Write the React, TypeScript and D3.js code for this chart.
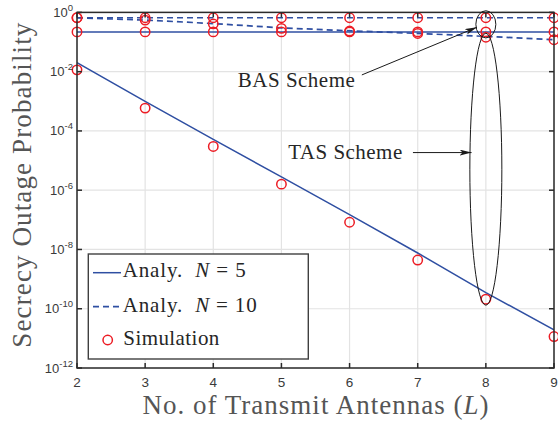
import React from "react";
import * as d3 from "d3";

// Number of transmit antennas
const antennas = [2, 3, 4, 5, 6, 7, 8, 9];

// Analytical curves
const tasN5 = [2.0e-2, 1.0e-3, 5.2e-5, 2.8e-6, 1.5e-7, 7.6e-9, 3.5e-10, 1.95e-11];
const basN5 = [0.22, 0.22, 0.22, 0.22, 0.22, 0.22, 0.22, 0.22];
const tasN10 = [0.66, 0.55, 0.42, 0.3, 0.24, 0.195, 0.155, 0.12];
const basN10 = [0.66, 0.66, 0.66, 0.66, 0.66, 0.66, 0.66, 0.66];

// Simulation points
const simTasN5 = [1.15e-2, 5.9e-4, 3.0e-5, 1.6e-6, 8.3e-8, 4.4e-9, 2.1e-10, 1.15e-11];
const simBasN5 = [0.22, 0.22, 0.22, 0.22, 0.22, 0.22, 0.22, 0.22];
const simTasN10 = [0.66, 0.55, 0.41, 0.29, 0.235, 0.195, 0.145, 0.12];
const simBasN10 = [0.66, 0.66, 0.66, 0.66, 0.66, 0.66, 0.66, 0.66];

const xTicks = [2, 3, 4, 5, 6, 7, 8, 9];
const yTickExps = [0, -2, -4, -6, -8, -10, -12];

const width = 558;
const height = 421;
const marginLeft = 77;
const marginRight = 4;
const marginTop = 12.4;
const marginBottom = 53;

const blue = "#2f4fa2";
const red = "#ec1c24";
const axisColor = "#2b2b2b";
const gridColor = "#e3e3e3";
const serif = "Liberation Serif, Times New Roman, serif";
const sans = "Liberation Sans, Arial, sans-serif";

export default function App() {
  const x = d3.scaleLinear().domain([2, 9]).range([marginLeft, width - marginRight]);
  const y = d3.scaleLog().domain([1e-12, 1]).range([height - marginBottom, marginTop]);

  const line = d3
    .line<number>()
    .x((_, i) => x(antennas[i]))
    .y((d) => y(d));

  const x0 = x(2);
  const x1 = x(9);
  const y0 = y(1e-12);
  const y1 = y(1);

  const sims = [simTasN5, simBasN5, simTasN10, simBasN10];

  // annotation geometry (data space)
  const eCx = x(8);
  const smallTop = y(simBasN10[6]) - 7;
  const smallBot = y(simBasN5[6]) + 6;
  const tallTop = y(simTasN10[6]) - 4;
  const tallBot = y(simTasN5[6]) + 6;

  const basArrow = { x1: x(6.18), y1: y(10 ** -2.11), x2: x(7.87), y2: y(10 ** -0.5) };
  const tasArrow = { x1: x(6.93), y1: y(10 ** -4.73), x2: x(7.79), y2: y(10 ** -4.73) };

  return (
    <svg
      width={width}
      height={height}
      viewBox={`0 0 ${width} ${height}`}
      style={{ position: "absolute", left: 0, top: 0, background: "#fff" }}
    >
      <defs>
        <marker id="arr" viewBox="0 0 12 6" refX="12" refY="3" markerWidth="12" markerHeight="6" markerUnits="userSpaceOnUse" orient="auto">
          <path d="M0,0 L12,3 L0,6 L3,3 Z" fill="#1a1a1a" />
        </marker>
        <clipPath id="plot">
          <rect x={x0} y={y1} width={x1 - x0} height={y0 - y1} />
        </clipPath>
      </defs>

      {/* grid */}
      <g stroke={gridColor} strokeWidth={1.2}>
        {xTicks.map((t) => (
          <line key={"gx" + t} x1={x(t)} x2={x(t)} y1={y1} y2={y0} />
        ))}
        {yTickExps.map((e) => (
          <line key={"gy" + e} x1={x0} x2={x1} y1={y(10 ** e)} y2={y(10 ** e)} />
        ))}
      </g>

      {/* curves */}
      <g clipPath="url(#plot)" fill="none" stroke={blue} strokeWidth={1.5}>
        <path d={line(tasN5) || ""} />
        <path d={line(basN5) || ""} />
        <path d={line(tasN10) || ""} strokeDasharray="6,4" strokeWidth={1.7} />
        <path d={line(basN10) || ""} strokeDasharray="6,4" strokeWidth={1.7} />
      </g>

      {/* simulation markers */}
      <g fill="none" stroke={red} strokeWidth={1.5}>
        {sims.map((s, si) =>
          s.map((v, i) => <circle key={si + "-" + i} cx={x(antennas[i])} cy={y(v)} r={4.7} />)
        )}
      </g>

      {/* frame and ticks */}
      <g stroke={axisColor} strokeWidth={1.5} fill="none">
        <rect x={x0} y={y1} width={x1 - x0} height={y0 - y1} />
        {xTicks.map((t) => (
          <g key={"tx" + t}>
            <line x1={x(t)} x2={x(t)} y1={y0} y2={y0 - 5} />
            <line x1={x(t)} x2={x(t)} y1={y1} y2={y1 + 5} />
          </g>
        ))}
        {yTickExps.map((e) => (
          <g key={"ty" + e}>
            <line x1={x0} x2={x0 + 5} y1={y(10 ** e)} y2={y(10 ** e)} />
            <line x1={x1} x2={x1 - 5} y1={y(10 ** e)} y2={y(10 ** e)} />
          </g>
        ))}
      </g>

      {/* tick labels */}
      <g fontFamily={sans} fill="#3a3a3a">
        {xTicks.map((t) => (
          <text key={"lx" + t} x={x(t)} y={y0 + 19} fontSize={13.5} textAnchor="middle">
            {t}
          </text>
        ))}
        {yTickExps.map((e) => (
          <text key={"ly" + e} x={x0 - 4} y={y(10 ** e) + 4.5} fontSize={13} textAnchor="end">
            10
            <tspan dy={-6} fontSize={9.5}>
              {e === 0 ? "0" : "-" + Math.abs(e)}
            </tspan>
          </text>
        ))}
      </g>

      {/* axis titles */}
      <text
        x={(x0 + x1) / 2}
        y={414}
        fontFamily={serif}
        fontSize={27}
        fill="#555"
        textAnchor="middle"
        textLength={346}
        lengthAdjust="spacing"
      >
        No. of Transmit Antennas (<tspan fontStyle="italic">L</tspan>)
      </text>
      <text
        transform={`translate(31,${(y0 + y1) / 2 - 5}) rotate(-90)`}
        fontFamily={serif}
        fontSize={27}
        fill="#555"
        textAnchor="middle"
        textLength={325}
        lengthAdjust="spacing"
      >
        Secrecy Outage Probability
      </text>

      {/* annotations */}
      <g fill="none" stroke="#1a1a1a" strokeWidth={1}>
        <ellipse cx={eCx} cy={(smallTop + smallBot) / 2} rx={10} ry={(smallBot - smallTop) / 2} />
        <ellipse cx={eCx} cy={(tallTop + tallBot) / 2} rx={16} ry={(tallBot - tallTop) / 2} />
        <line {...basArrow} markerEnd="url(#arr)" />
        <line {...tasArrow} markerEnd="url(#arr)" />
      </g>
      <g fontFamily={serif} fontSize={21} fill="#262626">
        <text x={x(4.36)} y={y(10 ** -2.506)} textLength={117} lengthAdjust="spacing">
          BAS Scheme
        </text>
        <text x={x(5.1)} y={y(10 ** -4.94)} textLength={114} lengthAdjust="spacing">
          TAS Scheme
        </text>
      </g>

      {/* legend */}
      <g>
        <rect x={88.3} y={254} width={220} height={105} fill="#fff" stroke="#404040" strokeWidth={1.4} />
        <line x1={93} x2={121} y1={272.7} y2={272.7} stroke={blue} strokeWidth={1.5} />
        <line x1={93} x2={121} y1={306.7} y2={306.7} stroke={blue} strokeWidth={1.7} strokeDasharray="6,4" />
        <circle cx={107.7} cy={340} r={4.7} fill="none" stroke={red} strokeWidth={1.5} />
        <g fontFamily={serif} fontSize={21} fill="#262626">
          <text x={122.7} y={277.3} textLength={123} lengthAdjust="spacing">
            Analy.{"\u00a0\u00a0"}
            <tspan fontStyle="italic">N</tspan>
            {"\u00a0=\u00a05"}
          </text>
          <text x={122.7} y={311.7} textLength={134} lengthAdjust="spacing">
            Analy.{"\u00a0\u00a0"}
            <tspan fontStyle="italic">N</tspan>
            {"\u00a0=\u00a010"}
          </text>
          <text x={123.3} y={345} textLength={96} lengthAdjust="spacing">
            Simulation
          </text>
        </g>
      </g>
    </svg>
  );
}
